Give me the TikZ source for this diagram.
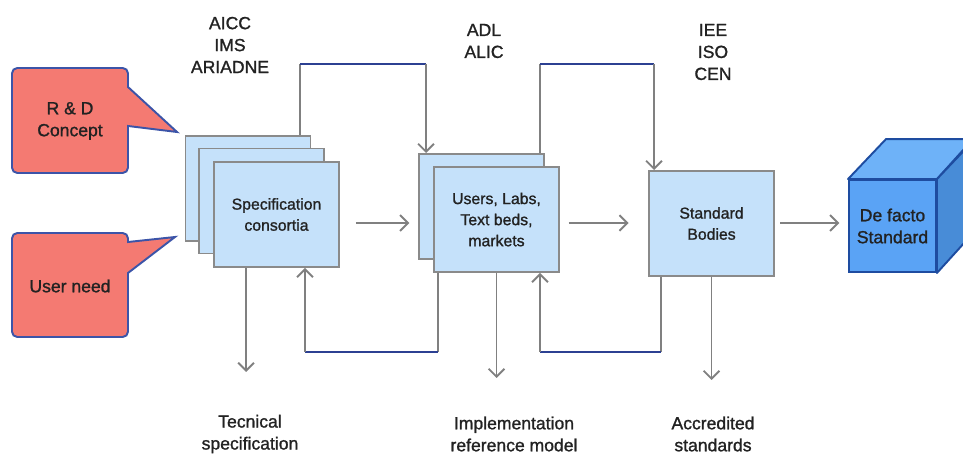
\documentclass[tikz,border=0pt]{standalone}
\usepackage{fontspec}
\setmainfont{Liberation Sans}[UprightFeatures={FakeBold=1.2}]
\usetikzlibrary{arrows.meta}
\definecolor{salmon}{RGB}{244,122,114}
\definecolor{edgeblue}{RGB}{60,84,168}
\definecolor{paleblue}{RGB}{197,225,250}
\definecolor{boxgray}{RGB}{138,138,138}
\definecolor{linegray}{RGB}{128,128,128}
\definecolor{busblue}{RGB}{44,64,146}
\definecolor{cubefront}{RGB}{90,163,245}
\definecolor{cubeside}{RGB}{72,140,215}
\definecolor{cubetop}{RGB}{110,178,248}
\definecolor{cubeedge}{RGB}{30,76,160}
\definecolor{ink}{RGB}{34,34,34}

\begin{document}
\begin{tikzpicture}[x=0.02cm, y=-0.02cm, text=ink,
  box/.style={draw=boxgray, fill=paleblue, line width=1.1pt, minimum width=2.5cm, minimum height=2.1cm, inner sep=0pt, align=center, font=\fontsize{9}{12}\selectfont},
  bubble/.style={draw=edgeblue, fill=salmon, line width=1.1pt},
  tag/.style={align=center, font=\fontsize{10}{12.5}\selectfont},
  flow/.style={draw=linegray, line width=1.1pt, -{Straight Barb[length=4.5pt,width=9pt]}},
  link/.style={draw=linegray, line width=1.1pt},
  bus/.style={draw=busblue, line width=1.1pt}]
\useasboundingbox (0,0) rectangle (963,455);
\clip (0,0) rectangle (963,455);

% Helper rows
\coordinate (hi) at (0,64);
\coordinate (row) at (0,223);
\coordinate (lo) at (0,352);

% Callouts
\draw[bubble] (128,87) -- (177,132) -- (128,126) [rounded corners=3pt] -- (128,173) -- (12,173) -- (12,68) -- (128,68) [sharp corners] -- cycle;
\node[tag] (rd) at (70,121) {R \& D\\Concept};
\draw[bubble] (128,242) -- (175,237) -- (128,273) [rounded corners=3pt] -- (128,337) -- (12,337) -- (12,233) -- (128,233) [sharp corners] -- cycle;
\node[tag] (need) at (70,286) {User need};

% Specification consortia
\node[box] (specb) at (248,188.5) {};
\node[box] (specm) at (261.5,201) {};
\node[box] (spec) at (276.5,214.5) {Specification\\consortia};

% Users, labs
\node[box] (usersb) at (481.5,206.5) {};
\node[box] (users) at (496.5,219.5) {Users, Labs,\\Text beds,\\markets};

% Standard bodies
\node[box] (sb) at (711.5,223.5) {Standard\\Bodies};

% De facto cube
\node[draw=cubeedge, fill=cubefront, line width=1.1pt, minimum width=1.74cm, minimum height=1.84cm, align=center, font=\fontsize{10}{12.5}\selectfont] (cube) at (892.5,226) {De facto\\Standard};
\draw[draw=cubeedge, fill=cubetop, line width=1.1pt, line join=round] (cube.north west) -- ++(38,-40) -- ++(87,0) -- (cube.north east) -- cycle;
\draw[draw=cubeedge, fill=cubeside, line width=1.1pt, line join=round] (cube.north east) -- ++(38,-40) -- ++(0,92) -- (cube.south east) -- cycle;

% Forward arrows
\draw[flow, shorten <=9pt, shorten >=5pt] (spec.east |- row) -- (usersb.west |- row);
\draw[flow, shorten <=5pt, shorten >=11pt] (users.east |- row) -- (sb.west |- row);
\draw[flow, shorten <=3pt, shorten >=5pt] (sb.east |- row) -- (cube.west |- row);

% Top loops
\coordinate (a1) at ([xshift=-0.22cm]specb.north east);
\coordinate (a2) at ([xshift=0.16cm]usersb.north west);
\draw[link] (a1) -- (a1 |- hi);
\draw[bus] (a1 |- hi) -- (a2 |- hi);
\draw[flow] (a2 |- hi) -- (a2);
\coordinate (b1) at ([xshift=-0.1cm]usersb.north east);
\coordinate (b2) at ([xshift=0.12cm]sb.north west);
\draw[link] (b1) -- (b1 |- hi);
\draw[bus] (b1 |- hi) -- (b2 |- hi);
\draw[flow] (b2 |- hi) -- (b2);

% Bottom loops
\coordinate (c1) at ([xshift=0.1cm]users.south west);
\coordinate (c2) at ([xshift=-0.7cm]spec.south east);
\draw[link] (c1) -- (c1 |- lo);
\draw[bus] (c1 |- lo) -- (c2 |- lo);
\draw[flow] (c2 |- lo) -- (c2);
\coordinate (d1) at ([xshift=0.26cm]sb.south west);
\coordinate (d2) at ([xshift=-0.4cm]users.south east);
\draw[link] (d1) -- (d1 |- lo);
\draw[bus] (d1 |- lo) -- (d2 |- lo);
\draw[flow] (d2 |- lo) -- (d2);

% Top labels
\node[tag] (org1) at (230,45) {AICC\\IMS\\ARIADNE};
\node[tag] (org2) at (484,41) {ADL\\ALIC};
\node[tag] (org3) at (713,52) {IEE\\ISO\\CEN};

% Outputs
\node[tag] (out1) at (250,434) {Tecnical\\specification};
\node[tag] (out2) at (514,434) {Implementation\\reference model};
\node[tag] (out3) at (713,434) {Accredited\\standards};
\coordinate (s1) at ([xshift=0.66cm]spec.south west);
\draw[flow] (s1) -- (s1 |- 0,372);
\draw[flow] (users.south) -- (users.south |- 0,378);
\draw[flow] (sb.south) -- (sb.south |- 0,380);
\end{tikzpicture}
\end{document}
